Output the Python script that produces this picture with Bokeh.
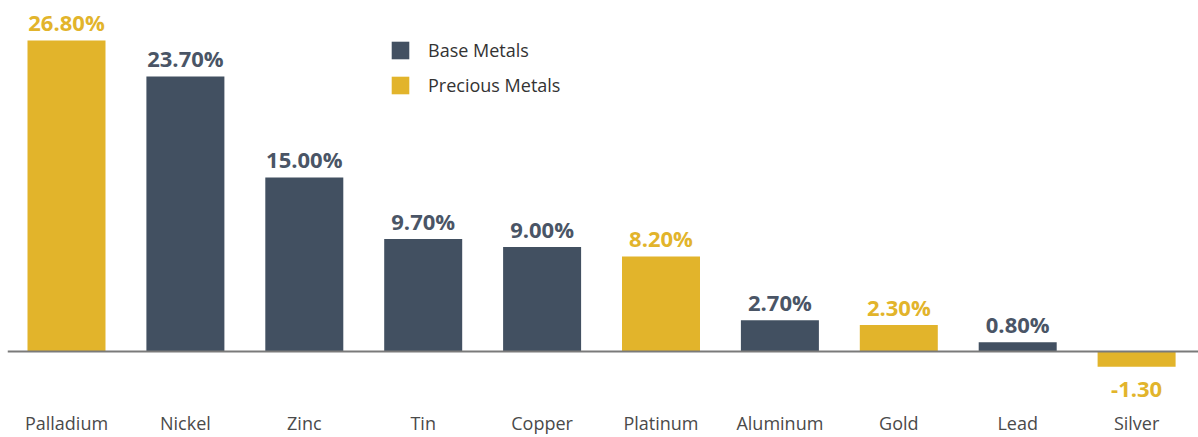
from bokeh.plotting import figure
from bokeh.models import ColumnDataSource, Range1d, Span, Legend, LegendItem, FixedTicker
from bokeh.core.properties import value
from bokeh.embed import file_html
from bokeh.resources import INLINE

categories = ["Palladium", "Nickel", "Zinc", "Tin", "Copper", "Platinum",
              "Aluminum", "Gold", "Lead", "Silver"]
values = [26.8, 23.7, 15.0, 9.7, 9.0, 8.2, 2.7, 2.3, 0.8, -1.3]
groups = ["Precious Metals", "Base Metals", "Base Metals", "Base Metals", "Base Metals",
          "Precious Metals", "Base Metals", "Precious Metals", "Base Metals", "Precious Metals"]
value_labels = ["26.80%", "23.70%", "15.00%", "9.70%", "9.00%", "8.20%",
                "2.70%", "2.30%", "0.80%", "-1.30"]
group_order = ["Base Metals", "Precious Metals"]

GOLD = "#E2B42B"
SLATE = "#425061"
bar_colors = {"Base Metals": SLATE, "Precious Metals": GOLD}
text_colors = {"Base Metals": "#4A5566", "Precious Metals": "#E2B42B"}

positions = list(range(len(categories)))

p = figure(width=1198, height=437, output_backend="svg", toolbar_location=None,
           x_range=Range1d(-0.4962, 9.5206),
           y_range=Range1d(-4.381, 30.235),
           min_border_left=7, min_border_right=0, min_border_top=0, min_border_bottom=34)
p.outline_line_color = None
p.grid.visible = False
p.yaxis.visible = False
p.background_fill_color = "white"
p.border_fill_color = "white"

xa = p.xaxis[0]
xa.ticker = FixedTicker(ticks=positions)
xa.major_label_overrides = {i: c for i, c in zip(positions, categories)}
xa.axis_line_color = None
xa.major_tick_line_color = None
xa.minor_tick_line_color = None
xa.major_tick_out = 0
xa.major_tick_in = 0
xa.major_label_standoff = 8
xa.major_label_text_font = "Open Sans"
xa.major_label_text_font_size = "18px"
xa.major_label_text_color = "#4A4A4A"

renderers = {}
for g in group_order:
    idx = [i for i, gg in enumerate(groups) if gg == g]
    src = ColumnDataSource(dict(
        x=[positions[i] for i in idx],
        top=[values[i] for i in idx],
        lab=[value_labels[i] for i in idx],
        yo=[-18 if values[i] >= 0 else 23 for i in idx],
    ))
    r = p.vbar(x="x", top="top", bottom=0, width=0.656, source=src,
               fill_color=bar_colors[g], line_color=None)
    renderers[g] = r
    p.text(x="x", y="top", text="lab", source=src, y_offset="yo",
           text_align="center", text_baseline="middle",
           text_font=value("Open Sans"), text_font_style="bold",
           text_font_size="22px", text_color=text_colors[g])

p.add_layout(Span(location=0, dimension="width", line_color="#7A7A7A", line_width=2))

legend = Legend(items=[LegendItem(label=g, renderers=[renderers[g]]) for g in group_order],
                location=(382, 305), orientation="vertical",
                glyph_width=22, glyph_height=22, label_standoff=17, spacing=11,
                padding=0, margin=0, border_line_color=None, background_fill_alpha=0,
                label_text_font="Open Sans", label_text_font_size="18px",
                label_text_color="#333333", label_height=18)
p.add_layout(legend)

open("out.html", "w").write(file_html(p, INLINE))
